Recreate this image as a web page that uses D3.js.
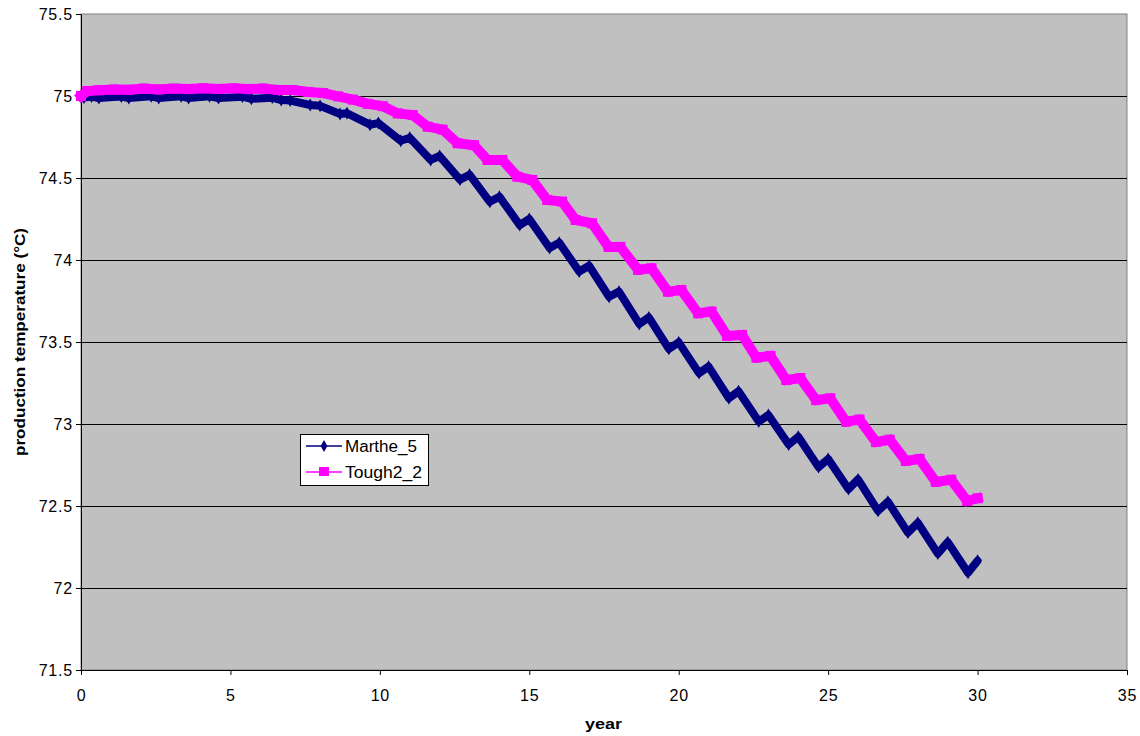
<!DOCTYPE html>
<html>
<head>
<meta charset="utf-8">
<script src="https://cdn.jsdelivr.net/npm/d3@7"></script>
<style>
  body { margin: 0; background: #fff; }
  text { font-family: Arial, "Liberation Sans", sans-serif; }
</style>
</head>
<body>
<svg id="chart" width="1140" height="736"></svg>
<script>
// data (year, production temperature in degC)
const marYears = [0, 0.1, 0.35, 0.6, 1.35, 1.6, 2.35, 2.6, 3.35, 3.6,
  4.3, 4.6, 5.4, 5.7, 6.4, 6.7, 7.0, 7.67, 8.0, 8.67,
  8.9, 9.67, 9.95, 10.7, 11.0, 11.7, 12.0, 12.68, 13.0, 13.68,
  14.0, 14.68, 15.0, 15.68, 16.0, 16.67, 17.0, 17.67, 18.0, 18.68,
  19.0, 19.67, 20.0, 20.68, 21.0, 21.68, 22.0, 22.68, 23.0, 23.68,
  24.0, 24.68, 25.0, 25.68, 26.0, 26.67, 27.0, 27.67, 28.0, 28.67,
  29.0, 29.68, 30.0];
const marTemps = [75.00, 74.99, 74.997, 74.987, 74.997, 74.987, 74.998, 74.988, 74.998, 74.988,
  74.998, 74.987, 74.996, 74.983, 74.99, 74.975, 74.972, 74.945, 74.94, 74.89,
  74.895, 74.825, 74.835, 74.727, 74.745, 74.61, 74.634, 74.49, 74.52, 74.355,
  74.386, 74.213, 74.25, 74.073, 74.106, 73.93, 73.965, 73.776, 73.807, 73.61,
  73.65, 73.458, 73.498, 73.31, 73.35, 73.157, 73.2, 73.015, 73.055, 72.875,
  72.922, 72.737, 72.787, 72.603, 72.662, 72.47, 72.526, 72.338, 72.398, 72.21,
  72.28, 72.093, 72.166];

const toughYears = [0, 0.2, 0.6, 1.1, 1.6, 2.1, 2.6, 3.1, 3.6, 4.1,
  4.6, 5.1, 5.6, 6.1, 6.6, 7.1, 7.6, 8.1, 8.6, 9.1,
  9.6, 10.1, 10.6, 11.1, 11.6, 12.1, 12.6, 13.15, 13.6, 14.1,
  14.6, 15.1, 15.6, 16.1, 16.55, 17.1, 17.65, 18.05, 18.64, 19.09,
  19.64, 20.09, 20.65, 21.1, 21.62, 22.12, 22.6, 23.07, 23.6, 24.07,
  24.6, 25.07, 25.6, 26.05, 26.6, 27.06, 27.6, 28.06, 28.6, 29.12,
  29.65, 30.0];
const toughTemps = [75.00, 75.03, 75.035, 75.04, 75.038, 75.045, 75.04, 75.045, 75.042, 75.047,
  75.043, 75.047, 75.042, 75.045, 75.036, 75.036, 75.025, 75.018, 74.998, 74.978,
  74.952, 74.938, 74.894, 74.884, 74.813, 74.795, 74.712, 74.70, 74.61, 74.61,
  74.508, 74.488, 74.366, 74.356, 74.244, 74.224, 74.08, 74.08, 73.94, 73.949,
  73.807, 73.817, 73.675, 73.685, 73.537, 73.543, 73.405, 73.415, 73.268, 73.28,
  73.146, 73.157, 73.014, 73.027, 72.89, 72.904, 72.775, 72.787, 72.647, 72.66,
  72.53, 72.547];

const xTicks = [0, 5, 10, 15, 20, 25, 30, 35];
const yTicks = [71.5, 72, 72.5, 73, 73.5, 74, 74.5, 75, 75.5];
const seriesNames = ['Marthe_5', 'Tough2_2'];

const svg = d3.select('#chart');
const x = d3.scaleLinear().domain([0, 35]).range([81, 1127]);
const y = d3.scaleLinear().domain([71.5, 75.5]).range([670, 14]);

// plot area
svg.append('rect')
  .attr('x', x(0)).attr('y', y(75.5))
  .attr('width', x(35) - x(0)).attr('height', y(71.5) - y(75.5))
  .attr('fill', '#c0c0c0').attr('stroke', '#808080').attr('stroke-width', 1);

// gridlines
svg.append('g').selectAll('line')
  .data(yTicks.filter(d => d > 71.5 && d < 75.5))
  .enter().append('line')
  .attr('x1', x(0)).attr('x2', x(35))
  .attr('y1', d => Math.round(y(d)) + 0.5).attr('y2', d => Math.round(y(d)) + 0.5)
  .attr('stroke', '#000').attr('stroke-width', 1);

// axes
const yAxis = svg.append('g')
  .attr('transform', `translate(${x(0)},0)`)
  .call(d3.axisLeft(y).tickValues(yTicks).tickSize(5).tickSizeOuter(0).tickFormat(d => d));
const xAxis = svg.append('g')
  .attr('transform', `translate(0,${y(71.5)})`)
  .call(d3.axisBottom(x).tickValues(xTicks).tickSize(5).tickSizeOuter(0).tickFormat(d => d));
[yAxis, xAxis].forEach(g => {
  g.select('.domain').attr('stroke', '#000');
  g.selectAll('.tick line').attr('stroke', '#000');
  g.selectAll('.tick text').attr('fill', '#000')
    .style('font-size', '16px').style('letter-spacing', '0.8px')
    .style('font-family', 'Arial, "Liberation Sans", sans-serif');
});
yAxis.selectAll('.tick text').attr('x', -8);
xAxis.selectAll('.tick text').attr('y', 20);

// axis titles
svg.append('text')
  .attr('x', 585).attr('y', 729)
  .attr('textLength', 37).attr('lengthAdjust', 'spacingAndGlyphs')
  .style('font-size', '14px').style('font-weight', 'bold')
  .text('year');
svg.append('text')
  .attr('transform', 'translate(25,456) rotate(-90)')
  .attr('textLength', 228).attr('lengthAdjust', 'spacingAndGlyphs')
  .style('font-size', '14px').style('font-weight', 'bold')
  .text('production temperature (°C)');

// series
const marthe = d3.zip(marYears, marTemps);
const tough = d3.zip(toughYears, toughTemps);
const line = d3.line().x(d => x(d[0])).y(d => y(d[1]));

svg.append('path').datum(marthe)
  .attr('d', line)
  .attr('fill', 'none').attr('stroke', '#000080')
  .attr('stroke-width', 8).attr('stroke-linejoin', 'round').attr('stroke-linecap', 'round');
svg.append('g').selectAll('path')
  .data(marthe).enter().append('path')
  .attr('d', d3.symbol(d3.symbolDiamond, 48))
  .attr('transform', d => `translate(${x(d[0])},${y(d[1])})`)
  .attr('fill', '#000080');

svg.append('path').datum(tough)
  .attr('d', line)
  .attr('fill', 'none').attr('stroke', '#ff00ff')
  .attr('stroke-width', 10).attr('stroke-linejoin', 'miter').attr('stroke-linecap', 'square');
svg.append('g').selectAll('rect')
  .data(tough).enter().append('rect')
  .attr('x', d => x(d[0]) - 5).attr('y', d => y(d[1]) - 5)
  .attr('width', 10).attr('height', 10)
  .attr('fill', '#ff00ff');

// legend
const legend = svg.append('g');
legend.append('rect')
  .attr('x', 300.5).attr('y', 434.5).attr('width', 128).attr('height', 51)
  .attr('fill', '#fff').attr('stroke', '#000');
const legendRows = [
  { name: seriesNames[0], color: '#000080', cy: 446, len: 72 },
  { name: seriesNames[1], color: '#ff00ff', cy: 472, len: 77 }
];
legendRows.forEach((r, i) => {
  legend.append('line')
    .attr('x1', 306).attr('x2', 342).attr('y1', r.cy).attr('y2', r.cy)
    .attr('stroke', r.color).attr('stroke-width', 1.5);
  if (i === 0) {
    legend.append('path')
      .attr('d', d3.symbol(d3.symbolDiamond, 40))
      .attr('transform', `translate(324,${r.cy})`)
      .attr('fill', r.color);
  } else {
    legend.append('rect')
      .attr('x', 319).attr('y', r.cy - 5).attr('width', 10).attr('height', 9)
      .attr('fill', r.color);
  }
  legend.append('text')
    .attr('x', 345).attr('y', r.cy + 6)
    .attr('textLength', r.len).attr('lengthAdjust', 'spacingAndGlyphs')
    .style('font-size', '16px')
    .text(r.name);
});
</script>
</body>
</html>
